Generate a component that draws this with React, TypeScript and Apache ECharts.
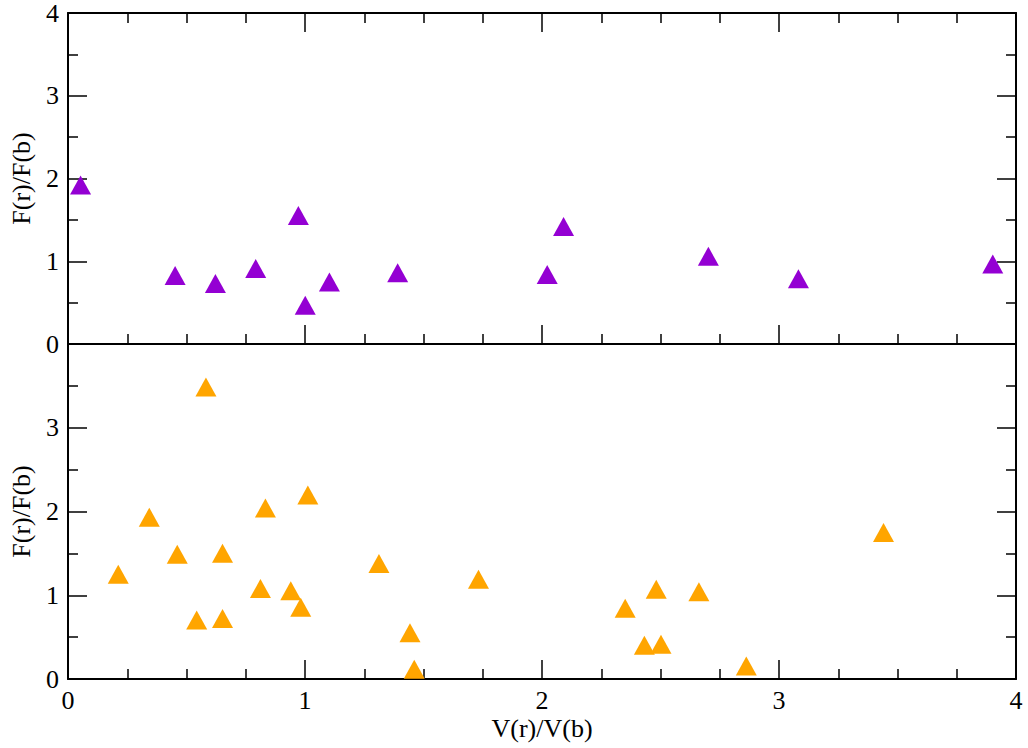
import React, { useEffect, useRef } from "react";
import * as echarts from "echarts";

// Top panel (purple) data: [V(r)/V(b), F(r)/F(b)]
const topX = [0.053, 0.452, 0.622, 0.792, 0.972, 1.001, 1.103, 1.391, 2.022, 2.091, 2.702, 3.082, 3.902];
const topY = [1.92, 0.828, 0.732, 0.912, 1.552, 0.468, 0.75, 0.86, 0.84, 1.42, 1.06, 0.79, 0.968];

// Bottom panel (orange) data
const botX = [0.212, 0.343, 0.461, 0.543, 0.582, 0.652, 0.652, 0.812, 0.833, 0.94, 0.982, 1.012, 1.312, 1.443, 1.461, 1.732, 2.351, 2.432, 2.482, 2.502, 2.662, 2.862, 3.441];
const botY = [1.251, 1.932, 1.491, 0.703, 3.486, 1.502, 0.723, 1.081, 2.041, 1.054, 0.858, 2.198, 1.38, 0.552, 0.117, 1.192, 0.845, 0.402, 1.072, 0.414, 1.042, 0.155, 1.748];

const xTicks = [0, 1, 2, 3, 4];
const yTicks = [0, 1, 2, 3, 4];

const xTitle = "V(r)/V(b)";
const yTitle = "F(r)/F(b)";

const FONT = "'Liberation Serif', 'DejaVu Serif', serif";
const FS = 26;

export default function App() {
  const ref = useRef<HTMLDivElement>(null);

  useEffect(() => {
    if (!ref.current) return;
    const chart = echarts.init(ref.current, undefined, { renderer: "svg" });

    const lineStyle = { color: "#000", width: 2 };
    const tickStyle = { color: "#000", width: 1.5 };
    const labelStyle = { fontFamily: FONT, fontSize: FS, color: "#000" };

    const xBase = (gridIndex: number, position: "top" | "bottom", showLabels: boolean, name?: string) => ({
      type: "value",
      gridIndex,
      position,
      min: xTicks[0],
      max: xTicks[xTicks.length - 1],
      interval: 1,
      name: name || "",
      nameLocation: "middle",
      nameGap: 36,
      nameTextStyle: { fontFamily: FONT, fontSize: FS, color: "#000" },
      axisLine: { show: true, onZero: false, lineStyle },
      axisTick: { show: true, inside: true, length: 19, lineStyle: tickStyle },
      minorTick: { show: true, splitNumber: 4, length: 10, lineStyle: tickStyle },
      axisLabel: { show: showLabels, margin: 8, showMaxLabel: true, showMinLabel: true, ...labelStyle },
      splitLine: { show: false },
    });

    const yBase = (gridIndex: number, position: "left" | "right", showLabels: boolean, showMax: boolean, name?: string) => ({
      type: "value",
      gridIndex,
      position,
      min: yTicks[0],
      max: yTicks[yTicks.length - 1],
      interval: 1,
      name: name || "",
      nameLocation: "middle",
      nameGap: 34,
      nameRotate: 90,
      nameTextStyle: { fontFamily: FONT, fontSize: FS, color: "#000" },
      axisLine: { show: true, onZero: false, lineStyle },
      axisTick: { show: true, inside: true, length: 19, lineStyle: tickStyle },
      minorTick: { show: true, splitNumber: 2, length: 10, lineStyle: tickStyle },
      axisLabel: { show: showLabels, margin: 9, showMaxLabel: showMax, showMinLabel: true, ...labelStyle },
      splitLine: { show: false },
    });

    const option = {
      animation: false,
      backgroundColor: "#fff",
      grid: [
        { left: 67, top: 11, width: 949, height: 333, containLabel: false },
        { left: 67, top: 344, width: 949, height: 335, containLabel: false },
      ],
      xAxis: [
        xBase(0, "bottom", false),
        xBase(0, "top", false),
        xBase(1, "bottom", true, xTitle),
      ],
      yAxis: [
        yBase(0, "left", true, true, yTitle),
        yBase(0, "right", false, true),
        yBase(1, "left", true, false, yTitle),
        yBase(1, "right", false, true),
      ],
      series: [
        {
          type: "scatter",
          xAxisIndex: 0,
          yAxisIndex: 0,
          symbol: "triangle",
          symbolSize: [21, 19],
          itemStyle: { color: "#9400D3", opacity: 1 },
          clip: false,
          data: topX.map((x, i) => [x, topY[i]]),
        },
        {
          type: "scatter",
          xAxisIndex: 2,
          yAxisIndex: 2,
          symbol: "triangle",
          symbolSize: [21, 19],
          itemStyle: { color: "#FFA500", opacity: 1 },
          clip: false,
          data: botX.map((x, i) => [x, botY[i]]),
        },
      ],
    };

    chart.setOption(option as any);
    return () => chart.dispose();
  }, []);

  return (
    <div
      ref={ref}
      style={{ position: "fixed", left: 0, top: 0, width: 1028, height: 748, background: "#fff" }}
    />
  );
}
